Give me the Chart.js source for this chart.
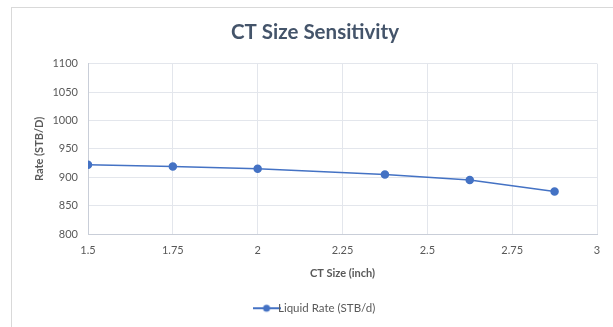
<!DOCTYPE html>
<html><head><meta charset="utf-8">
<script src="https://cdn.jsdelivr.net/npm/chart.js@4/dist/chart.umd.min.js"></script>
<style>
html,body{margin:0;padding:0;background:#fff;}
#wrap{position:relative;width:613px;height:327px;overflow:hidden;}
#frame{position:absolute;left:11px;top:7px;width:700px;height:400px;border:1px solid #d9d9d9;box-sizing:border-box;}
canvas{position:absolute;left:0;top:0;}
</style></head>
<body>
<div id="wrap"><div id="frame"></div><canvas id="c" width="613" height="327"></canvas></div>
<script>
const ctSize = [1.5, 1.75, 2, 2.375, 2.625, 2.875];
const liquidRate = [922, 919, 915, 905, 895, 875];
const seriesName = 'Liquid Rate (STB/d)';
const chartTitle = 'CT Size Sensitivity';
const xTitle = 'CT Size (inch)';
const yTitle = 'Rate (STB/D)';

const blue = '#4472C4';
const grey = '#595959';
const titleColor = '#44546A';
const fontFam = 'Lato, "Open Sans", sans-serif';

const mk = document.createElement('canvas');
mk.width = 28; mk.height = 10;
const mctx = mk.getContext('2d');
mctx.strokeStyle = blue; mctx.lineWidth = 2;
mctx.beginPath(); mctx.moveTo(0,5); mctx.lineTo(28,5); mctx.stroke();
mctx.fillStyle = blue; mctx.beginPath(); mctx.arc(14,5,3.5,0,Math.PI*2); mctx.fill();

const legendShift = {
  id: 'legendShift',
  afterLayout(chart) {
    const lg = chart.legend;
    if (lg) { lg.left += 3; lg.right += 3; }
  }
};

new Chart(document.getElementById('c'), {
  type: 'line',
  data: {
    datasets: [{
      label: seriesName,
      data: ctSize.map((x,i)=>({x:x, y:liquidRate[i]})),
      borderColor: blue,
      backgroundColor: blue,
      borderWidth: 1.5,
      pointRadius: 3.5,
      pointHoverRadius: 3.5,
      pointBackgroundColor: blue,
      pointBorderColor: blue,
      tension: 0
    }]
  },
  plugins: [legendShift],
  options: {
    responsive: false,
    animation: false,
    layout: { padding: { left: 33, right: 16, top: 0, bottom: 3 } },
    plugins: {
      title: {
        display: true, text: chartTitle, color: titleColor,
        font: { family: fontFam, size: 20.5, weight: 'bold' },
        padding: { top: 20, bottom: 19 }
      },
      legend: {
        position: 'bottom',
        labels: {
          usePointStyle: true, pointStyle: mk,
          color: grey, font: { family: fontFam, size: 11.5 },
          padding: 6, boxWidth: 28
        }
      },
      tooltip: { enabled: false }
    },
    scales: {
      x: {
        type: 'linear', min: 1.5, max: 3,
        ticks: { stepSize: 0.25, color: grey, font: { family: fontFam, size: 11 }, padding: 10,
                 callback: (v) => String(v) },
        grid: { color: '#e3e6ec', drawTicks: false },
        border: { color: '#c9ced8' },
        title: { display: true, text: xTitle, color: grey, font: { family: fontFam, size: 11, weight: 'bold' }, padding: { top: 0, bottom: 16 } }
      },
      y: {
        min: 800, max: 1100,
        ticks: { stepSize: 50, color: grey, font: { family: fontFam, size: 11 }, padding: 10,
                 callback: (v) => String(v) },
        grid: { color: '#e3e6ec', drawTicks: false },
        border: { color: '#c9ced8' },
        title: { display: true, text: yTitle, color: grey, font: { family: fontFam, size: 11, weight: 'bold' }, padding: { top: 0, bottom: 4 } },
        afterFit: (s) => { s.width = 55; }
      }
    }
  }
});
</script>
</body></html>
